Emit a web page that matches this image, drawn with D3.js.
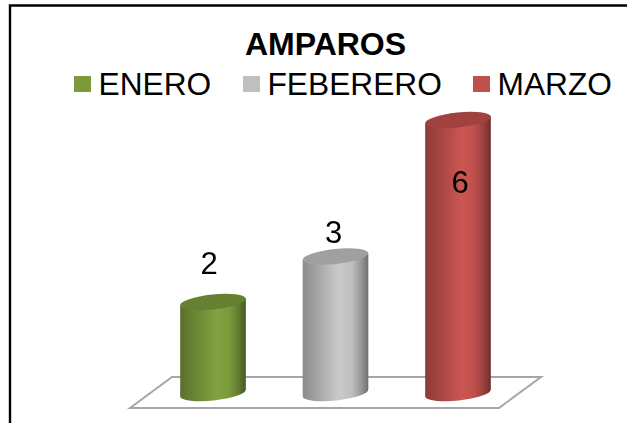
<!DOCTYPE html>
<html><head><meta charset="utf-8">
<script src="https://cdn.jsdelivr.net/npm/d3@7"></script>
<style>html,body{margin:0;padding:0;background:#fff}svg{display:block;font-family:"Liberation Sans",Arial,sans-serif}</style>
</head><body><div id="c"></div>
<script>
const categories = ["ENERO","FEBERERO","MARZO"];
const values = [2,3,6];
const baseColors = ["#7a9a3c","#bfbfbf","#c0504d"];
const chartTitle = "AMPAROS";

const W=627,H=423;
const svg=d3.select("#c").append("svg").attr("width",W).attr("height",H);
const defs=svg.append("defs");
defs.append("filter").attr("id","soft").append("feGaussianBlur").attr("stdDeviation",0.45);

// frame
svg.append("path").attr("d",`M10,${H}V5.5H${W}`).attr("fill","none").attr("stroke","#000").attr("stroke-width",2.4);

// title
svg.append("text").attr("x",325.5).attr("y",55).attr("text-anchor","middle")
  .attr("font-size",32).attr("font-weight","bold").attr("fill","#000").text(chartTitle);

// legend
const legendX=d3.scaleOrdinal().domain(categories).range([74,243,473]);
const lg=svg.append("g").selectAll("g").data(categories).join("g")
  .attr("transform",d=>`translate(${legendX(d)},76)`);
lg.append("rect").attr("width",17).attr("height",16).attr("fill",(d,i)=>baseColors[i]);
lg.append("text").attr("x",24.5).attr("y",19).attr("font-size",31.7).attr("fill","#000").text(d=>d);

// floor
const floor=d3.path();
floor.moveTo(130,408);floor.lineTo(172,377);floor.lineTo(541,377);floor.lineTo(499,408);floor.closePath();
svg.append("path").attr("d",floor.toString()).attr("fill","#fff").attr("stroke","#a6a6a6").attr("stroke-width",2);

// scales
const x=d3.scalePoint().domain(categories).range([213,458]);
const y=d3.scaleLinear().domain([0,6]).range([393,120]);
const rx=33, ry=7.5, tilt=-6, t=tilt*Math.PI/180;
const dx=rx*Math.cos(t), dy=rx*Math.sin(t);

// gradients
categories.forEach((c,i)=>{
  const b=d3.color(baseColors[i]);
  const g=defs.append("linearGradient").attr("id","g"+i).attr("x1",0).attr("x2",1).attr("y1",0).attr("y2",0);
  [[0,0.72],[0.12,0.8],[0.55,1.06],[0.75,1.0],[0.9,0.78],[1,0.58]].forEach(([o,k])=>{
    const col=d3.rgb(Math.min(255,b.r*k),Math.min(255,b.g*k),Math.min(255,b.b*k));
    g.append("stop").attr("offset",o).attr("stop-color",col.formatHex());
  });
});

const bars=svg.append("g").attr("filter","url(#soft)").selectAll("g").data(categories).join("g");
bars.append("path").attr("fill",(d,i)=>`url(#g${i})`).attr("d",(d,i)=>{
  const cx=x(d),top=y(values[i]),bot=y(0);
  return `M${cx-dx},${top-dy}L${cx-dx},${bot-dy}A${rx},${ry} ${tilt} 0 0 ${cx+dx},${bot+dy}L${cx+dx},${top+dy}Z`;
});
bars.append("ellipse").attr("rx",rx).attr("ry",ry)
  .attr("transform",(d,i)=>`translate(${x(d)},${y(values[i])}) rotate(${tilt})`)
  .attr("fill",(d,i)=>d3.rgb(baseColors[i]).darker(0.5).formatHex());

// value labels
const nudge=v=>v===2?[-4,-28]:v===3?[-2,-14]:[2,73];
svg.append("g").selectAll("text").data(categories).join("text")
  .attr("x",(d,i)=>x(d)+nudge(values[i])[0]).attr("y",(d,i)=>y(values[i])+nudge(values[i])[1])
  .attr("text-anchor","middle").attr("font-size",31).attr("fill","#000")
  .text((d,i)=>values[i]);
</script></body></html>
